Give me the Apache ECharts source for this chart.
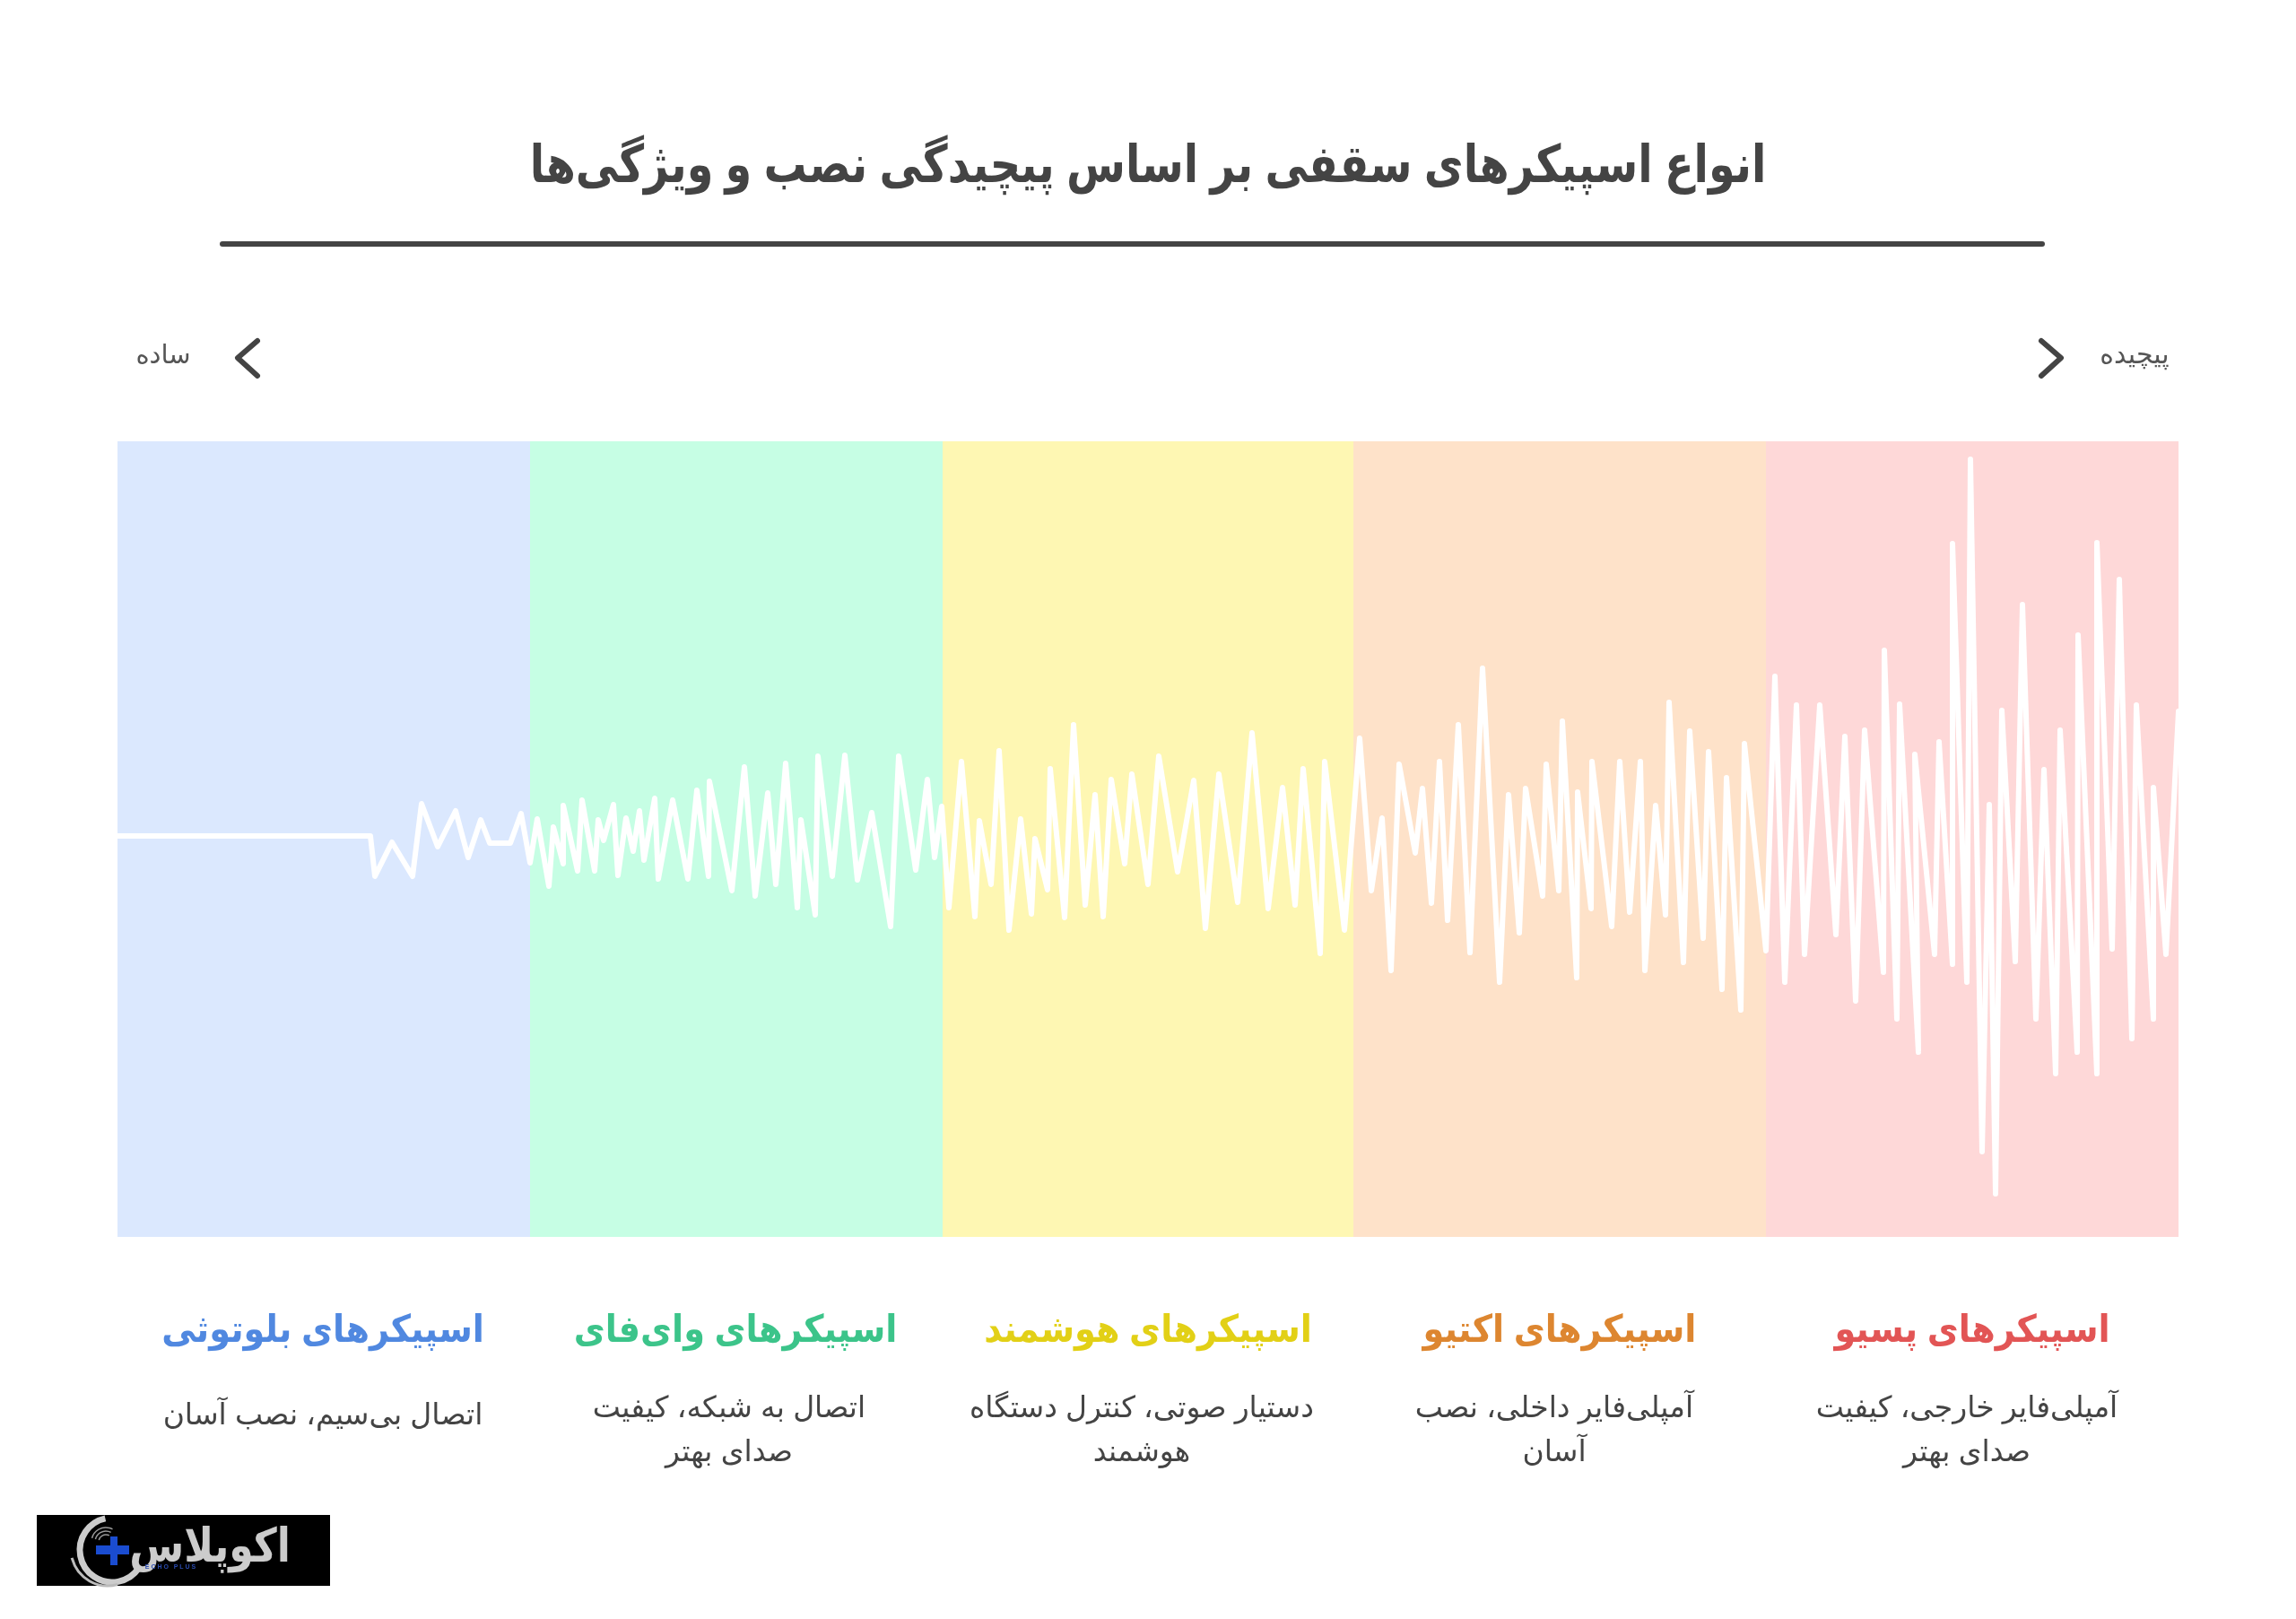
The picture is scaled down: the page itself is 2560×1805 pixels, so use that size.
<!DOCTYPE html>
<html lang="fa">
<head>
    <meta charset="UTF-8">
    <title>انواع اسپیکرهای سقفی</title>
    <style>
        html, body { margin: 0; padding: 0; background: #fff; }
        #main { width: 2560px; height: 1805px; }
    </style>
</head>
<body>
<div id="main"></div>
<script src="https://cdn.jsdelivr.net/npm/echarts@6/dist/echarts.min.js"></script>
<script>
    var chartTitle = 'انواع اسپیکرهای سقفی بر اساس پیچیدگی نصب و ویژگی‌ها';
    var simpleLabel = 'ساده';
    var complexLabel = 'پیچیده';
    var logoText = 'اکوپلاس';
    var logoSubText = 'E C H O   P L U S';
    var headings = ['اسپیکرهای بلوتوثی', 'اسپیکرهای وای‌فای', 'اسپیکرهای هوشمند', 'اسپیکرهای اکتیو', 'اسپیکرهای پسیو'];
    var descriptions = [
        ['اتصال بی‌سیم، نصب آسان'],
        ['اتصال به شبکه، کیفیت', 'صدای بهتر'],
        ['دستیار صوتی، کنترل دستگاه', 'هوشمند'],
        ['آمپلی‌فایر داخلی، نصب', 'آسان'],
        ['آمپلی‌فایر خارجی، کیفیت', 'صدای بهتر']
    ];
    var bandColors = ['#dbe8fe', '#c6fee4', '#fef7b3', '#fee2c9', '#fed8d8'];
    var headingColors = ['#5088e0', '#3cc48a', '#e2d016', '#dd8630', '#e25555'];
    var bandEdges = [0, 460, 920, 1378, 1838, 2298];

    // wave position along the strip, and its swing around the centre line
    var waveT = [0, 282, 287, 306, 329, 339, 357, 377, 391, 405, 415, 438, 450, 460, 468, 481, 486, 497, 497, 513, 518, 532, 536, 542, 553, 558, 567, 575, 582, 587, 599, 603, 619, 636, 646, 659, 660, 685, 699, 711, 725, 734, 745, 758, 762, 778, 781, 797, 811, 825, 841, 862, 871, 890, 903, 911, 919, 927, 941, 956, 961, 974, 983, 994, 1007, 1019, 1023, 1037, 1040, 1056, 1066, 1079, 1090, 1099, 1108, 1123, 1131, 1149, 1161, 1182, 1200, 1213, 1228, 1249, 1265, 1283, 1299, 1313, 1322, 1341, 1346, 1368, 1385, 1398, 1410, 1420, 1429, 1447, 1455, 1465, 1474, 1483, 1495, 1508, 1522, 1541, 1551, 1563, 1570, 1589, 1593, 1607, 1611, 1627, 1628, 1643, 1644, 1666, 1675, 1686, 1698, 1703, 1715, 1726, 1730, 1746, 1753, 1768, 1774, 1789, 1794, 1810, 1814, 1838, 1848, 1859, 1872, 1881, 1898, 1916, 1926, 1938, 1948, 1969, 1970, 1984, 1987, 2008, 2004, 2026, 2031, 2046, 2046, 2062, 2066, 2079, 2087, 2094, 2101, 2116, 2124, 2139, 2148, 2161, 2166, 2185, 2186, 2207, 2207, 2224, 2232, 2246, 2251, 2270, 2270, 2284, 2298];
    var waveAmp = [0, 0, -45, -7, -45, 36, -12, 28, -24, 18, -8, -8, 25, -30, 19, -56, 10, -31, 34, -39, 40, -39, 18, -5, 35, -44, 20, -17, 28, -27, 42, -48, 40, -48, 51, -45, 61, -61, 77, -67, 48, -54, 81, -80, 18, -88, 89, -45, 90, -49, 26, -101, 89, -38, 63, -24, 33, -80, 83, -90, 17, -54, 95, -105, 19, -87, -3, -60, 75, -91, 124, -77, 46, -90, 63, -31, 69, -54, 89, -40, 62, -103, 69, -74, 115, -81, 54, -77, 75, -131, 83, -105, 109, -61, 20, -150, 80, -19, 53, -75, 83, -94, 124, -130, 187, -163, 46, -108, 53, -67, 80, -61, 128, -158, 49, -81, 83, -101, 83, -85, 83, -150, 34, -88, 149, -141, 117, -114, 94, -171, 65, -194, 103, -128, 178, -163, 146, -132, 146, -110, 111, -184, 118, -152, 207, -204, 147, -241, 91, -132, 105, -143, 326, -163, 420, -352, 35, -399, 140, -140, 258, -204, 74, -265, 118, -241, 224, -265, 327, -126, 286, -226, 146, -204, 54, -132, 139];

    var wavePoints = waveT.map(function (t, i) { return [t, waveAmp[i]]; });
    var fontFamily = '"Liberation Sans", "DejaVu Sans", sans-serif';
    var headingCenters = [360, 820, 1280, 1739, 2199];
    var descCenters = [360, 813, 1273, 1733, 2193];

    function label(text, x, y, size, color, weight, scaleX, z) {
        return {
            type: 'text', x: x, y: y, scaleX: scaleX || 1, z: z || 10,
            style: {
                text: text, align: 'center', verticalAlign: 'middle',
                textAlign: 'center', textVerticalAlign: 'middle',
                fill: color, fontSize: size, fontWeight: weight, fontFamily: fontFamily
            }
        };
    }

    var labels = [
        label(chartTitle, 1280, 187, 58, '#444', 'bold', 0.824),
        label(simpleLabel, 182, 397, 29, '#555', 'normal'),
        label(complexLabel, 2380, 397, 30, '#555', 'normal')
    ];
    headings.forEach(function (h, i) {
        labels.push(label(h, headingCenters[i], 1484, 42, headingColors[i], 'bold', 0.91));
        descriptions[i].forEach(function (line, j) {
            var y = descriptions[i].length === 1 ? 1579 : 1571 + j * 49;
            labels.push(label(line, descCenters[i], y, 33, '#444', 'normal'));
        });
    });

    var logo = [
        { type: 'rect', shape: { x: 41, y: 1689, width: 327, height: 79 }, style: { fill: '#000' }, z: 10 },
        { type: 'arc', shape: { cx: 125, cy: 1728, r: 36, startAngle: 0.6, endAngle: 4.5, clockwise: true }, style: { stroke: '#ccc', fill: null, lineWidth: 7 }, z: 11 },
        { type: 'arc', shape: { cx: 120, cy: 1727, r: 41, startAngle: 1.3, endAngle: 2.9, clockwise: true }, style: { stroke: '#bbb', fill: null, lineWidth: 3 }, z: 11 },
        { type: 'arc', shape: { cx: 118, cy: 1719, r: 8, startAngle: 3.4, endAngle: 5.2, clockwise: true }, style: { stroke: '#999', fill: null, lineWidth: 1.5 }, z: 11 },
        { type: 'arc', shape: { cx: 118, cy: 1719, r: 12, startAngle: 3.4, endAngle: 5.2, clockwise: true }, style: { stroke: '#999', fill: null, lineWidth: 1.5 }, z: 11 },
        { type: 'arc', shape: { cx: 118, cy: 1719, r: 16, startAngle: 3.4, endAngle: 5.2, clockwise: true }, style: { stroke: '#999', fill: null, lineWidth: 1.5 }, z: 11 },
        { type: 'rect', shape: { x: 107, y: 1723, width: 37, height: 10 }, style: { fill: '#1a4cd0' }, z: 12 },
        { type: 'rect', shape: { x: 123, y: 1713, width: 8, height: 32 }, style: { fill: '#1a4cd0' }, z: 12 },
        label(logoText, 234, 1727, 52, '#ccc', 'bold', 0.85, 12),
        label(logoSubText, 190, 1747, 7, '#2a4bb0', 'bold', 1, 12)
    ];

    var myChart = echarts.init(document.getElementById('main'), null, { renderer: 'canvas' });
    var option = {
        animation: false,
        backgroundColor: '#fff',
        grid: { left: 131, width: 2298, top: 492, height: 887 },
        xAxis: { type: 'value', min: 0, max: 2298, show: false },
        yAxis: { type: 'value', min: -447, max: 440, show: false },
        series: [{
            type: 'line',
            data: wavePoints,
            symbol: 'none',
            smooth: false,
            lineStyle: { color: '#fff', width: 6, cap: 'round', join: 'round' },
            markArea: {
                silent: true,
                data: bandColors.map(function (c, i) {
                    return [
                        { xAxis: bandEdges[i], yAxis: -447, itemStyle: { color: c, opacity: 1 } },
                        { xAxis: bandEdges[i + 1], yAxis: 440 }
                    ];
                })
            }
        }],
        graphic: labels.concat(logo, [
            { type: 'line', shape: { x1: 248, y1: 272, x2: 2277, y2: 272 }, style: { stroke: '#444', lineWidth: 6, lineCap: 'round' } },
            { type: 'polyline', shape: { points: [[287, 380], [265, 399], [287, 419]] }, style: { stroke: '#444', fill: null, lineWidth: 6, lineCap: 'round', lineJoin: 'round' } },
            { type: 'polyline', shape: { points: [[2276, 380], [2298, 399], [2276, 419]] }, style: { stroke: '#444', fill: null, lineWidth: 6, lineCap: 'round', lineJoin: 'round' } }
        ])
    };
    myChart.setOption(option);
</script>
</body>
</html>
